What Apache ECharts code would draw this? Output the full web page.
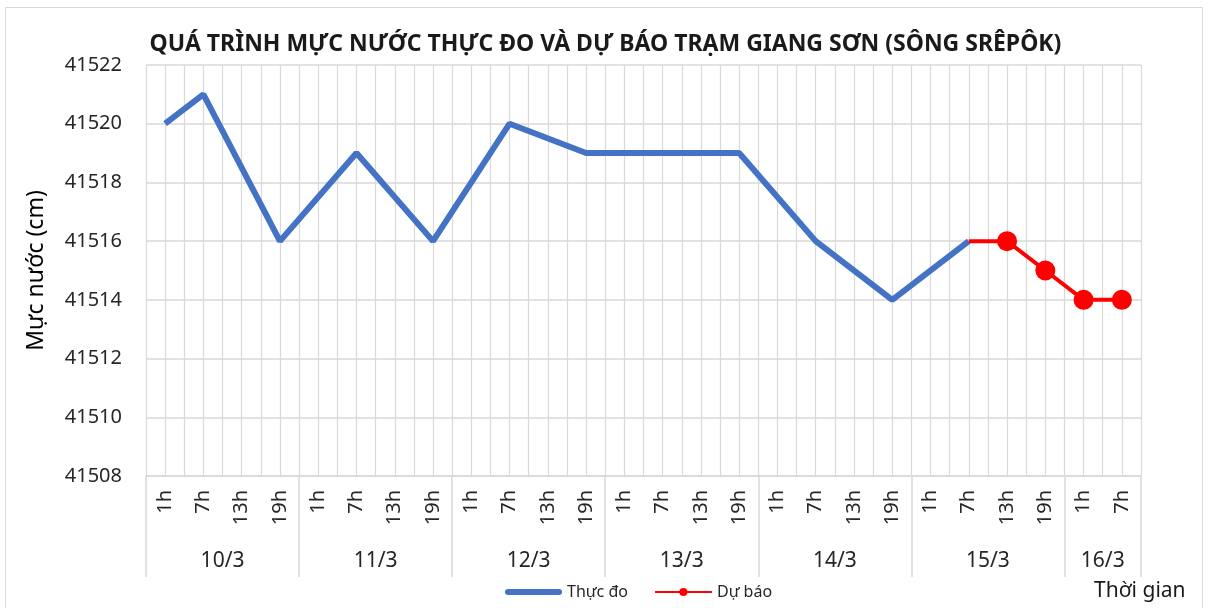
<!DOCTYPE html>
<html>
<head>
<meta charset="utf-8">
<script src="https://cdn.jsdelivr.net/npm/echarts@6/dist/echarts.min.js"></script>
<style>
  body { margin: 0; background: #fff; }
  #wrap { position: relative; width: 1211px; height: 608px; }
  #chart { width: 1211px; height: 608px; }
  #frame { position: absolute; left: 5px; top: 7px; width: 1196px; height: 620px; border: 1.5px solid #d9d9d9; pointer-events: none; }
</style>
</head>
<body>
<div id="wrap">
  <div id="chart"></div>
  <div id="frame"></div>
</div>
<script>
// nhãn giờ trên trục hoành
const hours = [
  "1h", "7h", "13h", "19h", // 10/3
  "1h", "7h", "13h", "19h", // 11/3
  "1h", "7h", "13h", "19h", // 12/3
  "1h", "7h", "13h", "19h", // 13/3
  "1h", "7h", "13h", "19h", // 14/3
  "1h", "7h", "13h", "19h", // 15/3
  "1h", "7h",               // 16/3
];
// ngày và số mốc giờ trong mỗi ngày
const dates = ["10/3", "11/3", "12/3", "13/3", "14/3", "15/3", "16/3"];
const slotsPerDate = [4, 4, 4, 4, 4, 4, 2];

// thực đo
const measured = [
  41520, 41521, null, 41516,
  null, 41519, null, 41516,
  null, 41520, null, 41519,
  null, 41519, null, 41519,
  null, 41516, null, 41514,
  null, 41516, null, null,
  null, null,
];
// dự báo
const forecast = [
  null, null, null, null,
  null, null, null, null,
  null, null, null, null,
  null, null, null, null,
  null, null, null, null,
  null, 41516, 41516, 41515,
  41514, 41514,
];

const yTicks = { min: 41508, max: 41522, interval: 2 };

// ranh giới ngày và vị trí nhãn ngày (theo số ô)
let edges = [0];
let centers = [];
slotsPerDate.forEach((n) => {
  const start = edges[edges.length - 1];
  centers.push(start + n / 2);
  edges.push(start + n);
});
const total = edges[edges.length - 1];

// điểm đầu của dự báo không có chấm
const firstForecast = forecast.findIndex((v) => v !== null);
const forecastData = forecast.map((v, i) =>
  i === firstForecast ? { value: v, symbol: "none" } : v
);

const font = "Noto Sans";
const gridColor = "#d9d9d9";
const blue = "#4472C4";
const red = "#FF0000";

var myChart = echarts.init(document.getElementById("chart"));
myChart.setOption({
  animation: false,
  textStyle: { fontFamily: font },
  title: [
    {
      text: "QUÁ TRÌNH MỰC NƯỚC THỰC ĐO VÀ DỰ BÁO TRẠM GIANG SƠN (SÔNG SRÊPÔK)",
      left: "center",
      top: 28,
      textStyle: { fontFamily: font, fontSize: 23, fontWeight: "bold", color: "#1a1a1a" },
    },
    {
      text: "Thời gian",
      left: 1089,
      top: 576,
      textStyle: { fontFamily: font, fontSize: 21, fontWeight: "normal", color: "#1a1a1a" },
    },
  ],
  legend: {
    left: 500,
    top: 579,
    itemWidth: 57,
    itemHeight: 10,
    itemGap: 26,
    textStyle: { fontFamily: font, fontSize: 16, color: "#262626" },
    data: [
      { name: "Thực đo", icon: "path://M3,0 L54,0 A3,3 0 0 1 54,6 L3,6 A3,3 0 0 1 3,0 Z" },
      { name: "Dự báo" },
    ],
  },
  grid: {
    left: 146,
    right: 70,
    top: 65,
    bottom: 132,
  },
  xAxis: [
    {
      type: "category",
      data: hours,
      position: "bottom",
      axisLine: { show: true, lineStyle: { color: gridColor, width: 1.5 } },
      axisTick: { show: false },
      axisLabel: {
        rotate: 90,
        margin: 14,
        interval: 0,
        fontFamily: font,
        fontSize: 20,
        color: "#262626",
      },
      splitLine: { show: false },
    },
    {
      // hàng nhãn ngày
      type: "value",
      min: 0,
      max: total,
      position: "bottom",
      axisLine: { show: false },
      axisTick: {
        show: true,
        customValues: edges,
        length: 101,
        lineStyle: { color: gridColor, width: 1.5 },
      },
      axisLabel: {
        customValues: centers,
        margin: 75,
        fontFamily: font,
        fontSize: 21,
        color: "#262626",
        formatter: (v) => dates[centers.indexOf(v)],
      },
      splitLine: { show: false },
    },
    {
      // lưới dọc mỗi nửa ô
      type: "value",
      min: 0,
      max: total * 2,
      interval: 1,
      position: "bottom",
      axisLine: { show: false },
      axisTick: { show: false },
      axisLabel: { show: false },
      splitLine: { show: true, lineStyle: { color: gridColor, width: 1.2 } },
    },
  ],
  yAxis: {
    type: "value",
    min: yTicks.min,
    max: yTicks.max,
    interval: yTicks.interval,
    name: "Mực nước (cm)",
    nameLocation: "middle",
    nameGap: 98,
    nameTextStyle: { fontFamily: font, fontSize: 23, color: "#000" },
    axisLine: { show: false },
    axisTick: { show: false },
    axisLabel: {
      margin: 24,
      fontFamily: font,
      fontSize: 20,
      color: "#262626",
      formatter: (v) => String(v),
    },
    splitLine: { show: true, lineStyle: { color: gridColor, width: 1.5 } },
  },
  series: [
    {
      name: "Thực đo",
      type: "line",
      xAxisIndex: 0,
      data: measured,
      connectNulls: true,
      symbol: "none",
      lineStyle: { color: blue, width: 6 },
      itemStyle: { color: blue },
      z: 3,
    },
    {
      name: "Dự báo",
      type: "line",
      xAxisIndex: 0,
      data: forecastData,
      symbol: "circle",
      symbolSize: 20,
      lineStyle: { color: red, width: 4 },
      itemStyle: { color: red },
      z: 4,
    },
  ],
});
</script>
</body>
</html>
